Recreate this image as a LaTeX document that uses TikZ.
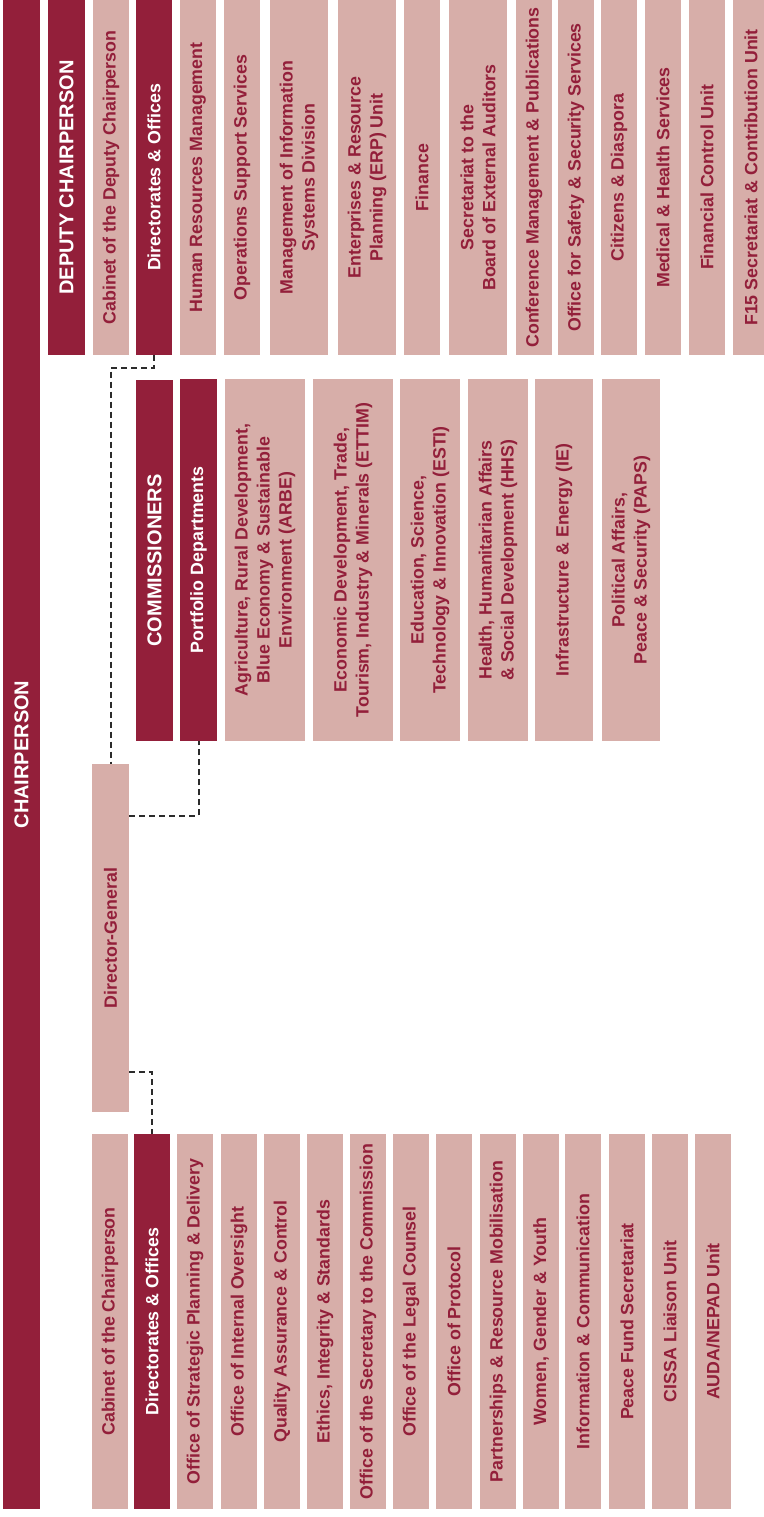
\documentclass[tikz,border=0pt]{standalone}
\usepackage{fontspec}
\setmainfont{Liberation Sans}
\definecolor{audark}{HTML}{931F3A}
\definecolor{aulight}{HTML}{D7AEA9}
\definecolor{dashgray}{HTML}{2B2B2B}
\tikzset{
  orgbase/.style={rectangle, inner sep=0pt, rotate=90, align=center,
    font=\fontsize{17.8bp}{22bp}\selectfont\bfseries},
  darkbox/.style={orgbase, fill=audark, text=white},
  lightbox/.style={orgbase, fill=aulight, text=audark},
  headbox/.style={orgbase, fill=audark, text=white,
    font=\fontsize{20bp}{24bp}\selectfont\bfseries},
  conn/.style={draw=dashgray, line width=2bp, dash pattern=on 6bp off 4bp}
}
\newcommand\orgbox[7]{%
  \node[#1, minimum width={(#6-#5)*1bp}, minimum height={(#4-#3)*1bp}]
    (#2) at ({(#3+#4)/2},{(#5+#6)/2}) {#7};}
\begin{document}
\begin{tikzpicture}[x=1bp,y=-1bp]
\useasboundingbox (0,0) rectangle (763,1517);
% Chairperson
\orgbox{headbox}{chair}{3}{40}{0}{1509}{CHAIRPERSON}
% Top row
\orgbox{headbox}{dep}{48}{85}{0}{355}{DEPUTY CHAIRPERSON}
\orgbox{lightbox}{cabd}{93}{129}{0}{355}{Cabinet of the Deputy Chairperson}
\orgbox{darkbox}{dd}{136}{172}{0}{355}{Directorates \& Offices}
\orgbox{lightbox}{hr}{180}{216}{0}{355}{Human Resources Management}
\orgbox{lightbox}{ops}{224}{260}{0}{355}{Operations Support Services}
\orgbox{lightbox}{mis}{270}{328}{0}{355}{Management of Information\\Systems Division}
\orgbox{lightbox}{erp}{338}{396}{0}{355}{Enterprises \& Resource\\Planning (ERP) Unit}
\orgbox{lightbox}{fin}{404}{440}{0}{355}{Finance}
\orgbox{lightbox}{sbea}{449}{507}{0}{355}{Secretariat to the\\Board of External Auditors}
\orgbox{lightbox}{conf}{516}{552}{0}{355}{Conference Management \& Publications}
\orgbox{lightbox}{safe}{558}{594}{0}{355}{Office for Safety \& Security Services}
\orgbox{lightbox}{cit}{601}{637}{0}{355}{Citizens \& Diaspora}
\orgbox{lightbox}{med}{645}{681}{0}{355}{Medical \& Health Services}
\orgbox{lightbox}{fcu}{689}{725}{0}{355}{Financial Control Unit}
\orgbox{lightbox}{f15}{733}{769}{0}{355}{F15 Secretariat \& Contribution Unit}
% Middle row
\orgbox{headbox}{com}{136}{173}{380}{741}{COMMISSIONERS}
\orgbox{darkbox}{pd}{180}{217}{379}{741}{Portfolio Departments}
\orgbox{lightbox}{arbe}{225}{305}{379}{741}{Agriculture, Rural Development,\\Blue Economy \& Sustainable\\Environment (ARBE)}
\orgbox{lightbox}{ettim}{313}{393}{379}{741}{Economic Development, Trade,\\Tourism, Industry \& Minerals (ETTIM)}
\orgbox{lightbox}{esti}{400}{460}{379}{741}{Education, Science,\\Technology \& Innovation (ESTI)}
\orgbox{lightbox}{hhs}{468}{528}{379}{741}{Health, Humanitarian Affairs\\\& Social Development (HHS)}
\orgbox{lightbox}{ie}{535}{593}{379}{741}{Infrastructure \& Energy (IE)}
\orgbox{lightbox}{paps}{602}{660}{379}{741}{Political Affairs,\\Peace \& Security (PAPS)}
% Director-General
\orgbox{lightbox}{dg}{92}{129}{764}{1112}{Director-General}
% Bottom row
\orgbox{lightbox}{cabc}{92}{128}{1134}{1509}{Cabinet of the Chairperson}
\orgbox{darkbox}{bd}{134}{170}{1134}{1509}{Directorates \& Offices}
\orgbox{lightbox}{osp}{177}{213}{1134}{1509}{Office of Strategic Planning \& Delivery}
\orgbox{lightbox}{oio}{221}{257}{1134}{1509}{Office of Internal Oversight}
\orgbox{lightbox}{qac}{264}{300}{1134}{1509}{Quality Assurance \& Control}
\orgbox{lightbox}{eis}{307}{343}{1134}{1509}{Ethics, Integrity \& Standards}
\orgbox{lightbox}{osc}{350}{386}{1134}{1509}{Office of the Secretary to the Commission}
\orgbox{lightbox}{olc}{393}{429}{1134}{1509}{Office of the Legal Counsel}
\orgbox{lightbox}{op}{436}{472}{1134}{1509}{Office of Protocol}
\orgbox{lightbox}{prm}{480}{516}{1134}{1509}{Partnerships \& Resource Mobilisation}
\orgbox{lightbox}{wgy}{523}{559}{1134}{1509}{Women, Gender \& Youth}
\orgbox{lightbox}{ic}{565}{601}{1134}{1509}{Information \& Communication}
\orgbox{lightbox}{pfs}{609}{645}{1134}{1509}{Peace Fund Secretariat}
\orgbox{lightbox}{cissa}{652}{688}{1134}{1509}{CISSA Liaison Unit}
\orgbox{lightbox}{auda}{695}{731}{1134}{1509}{AUDA/NEPAD Unit}
% Connectors
\coordinate (c1) at (0,368);
\coordinate (c2) at (0,816);
\coordinate (c3) at (0,1072);
\draw[conn] (dd.west) -- (dd.west |- c1) -| (dg.east);
\draw[conn] (dg.south |- c2) -| (pd.west);
\draw[conn] (dg.south |- c3) -| (bd.east);
\end{tikzpicture}
\end{document}
